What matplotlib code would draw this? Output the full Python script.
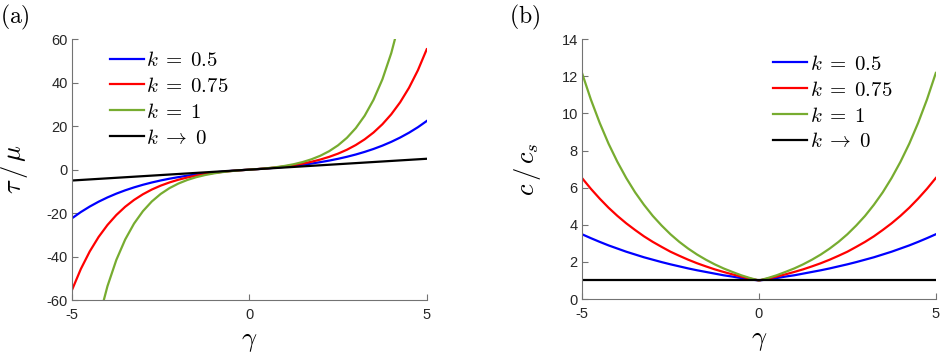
import numpy as np
import matplotlib.pyplot as plt

plt.rcParams['mathtext.fontset'] = 'cm'
plt.rcParams['font.family'] = ['Liberation Sans', 'DejaVu Sans']
plt.rcParams['axes.unicode_minus'] = False

# shear strain grid
gamma = np.linspace(-5, 5, 41)
gamma_lin = [-5, 5]

# panel (a): tau/mu
tau_k05 = [-22.37, -19.50, -16.98, -14.75, -12.78, -11.04, -9.51, -8.16, -6.96, -5.91, -4.98,
           -4.16, -3.44, -2.80, -2.23, -1.74, -1.30, -0.91, -0.57, -0.27, 0.0,
           0.27, 0.57, 0.91, 1.30, 1.74, 2.23, 2.80, 3.44, 4.16, 4.98,
           5.91, 6.96, 8.16, 9.51, 11.04, 12.78, 14.75, 16.98, 19.50, 22.37]
tau_k075 = [-55.36, -45.67, -37.63, -30.97, -25.45, -20.87, -17.07, -13.93, -11.32, -9.15, -7.36,
            -5.88, -4.64, -3.62, -2.77, -2.07, -1.49, -1.01, -0.61, -0.28, 0.0,
            0.28, 0.61, 1.01, 1.49, 2.07, 2.77, 3.62, 4.64, 5.88, 7.36,
            9.15, 11.32, 13.93, 17.07, 20.87, 25.45, 30.97, 37.63, 45.67, 55.36]
tau_k1 = [-147.41, -114.58, -89.02, -69.11, -53.60, -41.52, -32.12, -24.79, -19.09, -14.64, -11.18,
          -8.49, -6.39, -4.76, -3.48, -2.49, -1.72, -1.12, -0.65, -0.28, 0.0,
          0.28, 0.65, 1.12, 1.72, 2.49, 3.48, 4.76, 6.39, 8.49, 11.18,
          14.64, 19.09, 24.79, 32.12, 41.52, 53.60, 69.11, 89.02, 114.58, 147.41]
tau_k0 = [-5, 5]

# panel (b): c/c_s
c_k05 = [3.49, 3.28, 3.08, 2.89, 2.72, 2.55, 2.40, 2.25, 2.12, 1.99, 1.87,
         1.76, 1.65, 1.55, 1.46, 1.37, 1.28, 1.21, 1.13, 1.06, 1.0,
         1.06, 1.13, 1.21, 1.28, 1.37, 1.46, 1.55, 1.65, 1.76, 1.87,
         1.99, 2.12, 2.25, 2.40, 2.55, 2.72, 2.89, 3.08, 3.28, 3.49]
c_k075 = [6.52, 5.94, 5.41, 4.92, 4.48, 4.08, 3.72, 3.38, 3.08, 2.81, 2.55,
          2.33, 2.12, 1.93, 1.76, 1.60, 1.46, 1.33, 1.21, 1.10, 1.0,
          1.10, 1.21, 1.33, 1.46, 1.60, 1.76, 1.93, 2.12, 2.33, 2.55,
          2.81, 3.08, 3.38, 3.72, 4.08, 4.48, 4.92, 5.41, 5.94, 6.52]
c_k1 = [12.18, 10.75, 9.49, 8.37, 7.39, 6.52, 5.75, 5.08, 4.48, 3.96, 3.49,
        3.08, 2.72, 2.40, 2.12, 1.87, 1.65, 1.46, 1.28, 1.13, 1.0,
        1.13, 1.28, 1.46, 1.65, 1.87, 2.12, 2.40, 2.72, 3.08, 3.49,
        3.96, 4.48, 5.08, 5.75, 6.52, 7.39, 8.37, 9.49, 10.75, 12.18]
c_k0 = [1, 1]

labels = [r'$k\;=\;0.5$', r'$k\;=\;0.75$', r'$k\;=\;1$', r'$k\;\rightarrow\;0$']
colors = ['#0000FF', '#FF0000', '#77AC30', '#000000']

fig = plt.figure(figsize=(9.41, 3.56), dpi=100)
ax1 = fig.add_axes([0.0765, 0.157, 0.377, 0.733])
ax2 = fig.add_axes([0.6185, 0.160, 0.376, 0.730])

axis_col = '0.45'
lw = 1.6

def style(ax):
    for s in ['top', 'right']:
        ax.spines[s].set_visible(False)
    for s in ['left', 'bottom']:
        ax.spines[s].set_color(axis_col)
        ax.spines[s].set_linewidth(0.8)
    ax.tick_params(direction='in', length=4, width=0.8, color=axis_col,
                   labelcolor='#262626', labelsize=10.5)
    ax.tick_params(axis='x', pad=6)
    ax.tick_params(axis='y', pad=3)

legend_kw = dict(loc='upper left', frameon=False, fontsize=15, handlelength=1.65,
                 handletextpad=0.1, labelspacing=0.33, borderpad=0, borderaxespad=0)

# (a)
for y, c, lab in zip([tau_k05, tau_k075, tau_k1], colors[:3], labels[:3]):
    ax1.plot(gamma, y, color=c, lw=lw, label=lab)
ax1.plot(gamma_lin, tau_k0, color=colors[3], lw=lw, label=labels[3])
ax1.set_xlim(-5, 5)
ax1.set_ylim(-60, 60)
ax1.set_xticks([-5, 0, 5])
ax1.set_yticks(np.arange(-60, 61, 20))
style(ax1)
ax1.set_xlabel(r'$\gamma$', fontsize=19)
ax1.set_ylabel(r'$\tau\,/\,\mu$', fontsize=19)
ax1.xaxis.set_label_coords(0.5, -0.115)
ax1.yaxis.set_label_coords(-0.118, 0.5)
ax1.legend(bbox_to_anchor=(0.107, 0.955), **legend_kw)

# (b)
for y, c, lab in zip([c_k05, c_k075, c_k1], colors[:3], labels[:3]):
    ax2.plot(gamma, y, color=c, lw=lw, label=lab)
ax2.plot(gamma_lin, c_k0, color=colors[3], lw=lw, label=labels[3])
ax2.set_xlim(-5, 5)
ax2.set_ylim(0, 14)
ax2.set_xticks([-5, 0, 5])
ax2.set_yticks(np.arange(0, 15, 2))
style(ax2)
ax2.set_xlabel(r'$\gamma$', fontsize=19)
ax2.set_ylabel(r'$c\,/\,c_s$', fontsize=19)
ax2.xaxis.set_label_coords(0.5, -0.115)
ax2.yaxis.set_label_coords(-0.11, 0.5)
ax2.legend(bbox_to_anchor=(0.54, 0.94), **legend_kw)

fig.text(0.0, 1 - 17 / 356, r'$\mathrm{(a)}$', fontsize=17, ha='left', va='center')
fig.text(509 / 941, 1 - 17 / 356, r'$\mathrm{(b)}$', fontsize=17, ha='left', va='center')

fig.savefig('out.png', dpi=100)
